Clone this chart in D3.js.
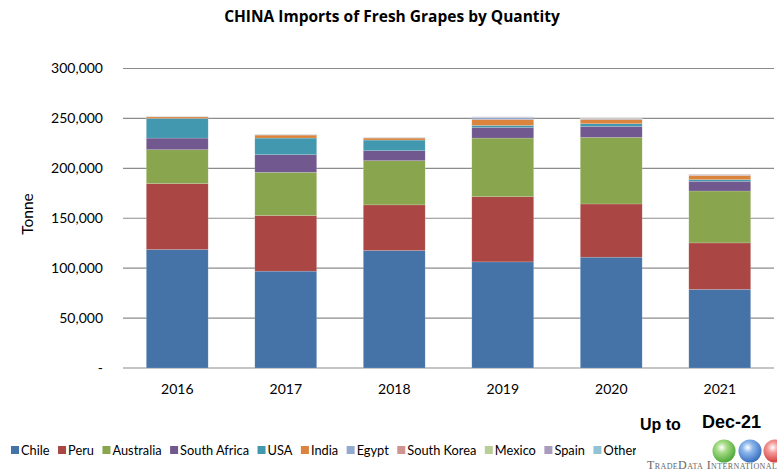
<!DOCTYPE html>
<html>
<head>
<meta charset="utf-8">
<script src="https://cdn.jsdelivr.net/npm/d3@7"></script>
<style>
  body { margin: 0; background: #fff; }
  svg { display: block; font-family: Lato, "Open Sans", sans-serif; }
</style>
</head>
<body>
<div id="chart"></div>
<script>
const years = ["2016", "2017", "2018", "2019", "2020", "2021"]
const countries = ["Chile", "Peru", "Australia", "South Africa", "USA", "India", "Egypt", "South Korea", "Mexico", "Spain", "Others"]
const colors = ["#4572A7", "#AA4643", "#89A54E", "#71588F", "#4198AF", "#DB843D", "#93A9CF", "#D19392", "#B9CD96", "#A99BBD", "#92C3D5"]

// tonnes
const chile       = [118700, 97000, 117700, 106300, 111000, 78700]
const peru        = [66000, 55700, 45700, 65300, 53300, 46600]
const australia   = [34000, 43300, 44300, 58700, 66700, 52000]
const southAfrica = [11600, 17700, 10000, 10700, 11000, 9700]
const usa         = [19700, 16600, 10600, 2000, 2700, 1700]
const india       = [1500, 3000, 2000, 6000, 4300, 4000]
const egypt       = [0, 300, 300, 2100, 600, 300]
const southKorea  = [300, 300, 300, 200, 400, 900]
const mexico      = [100, 100, 100, 100, 100, 100]
const spain       = [100, 100, 100, 100, 100, 100]
const others      = [100, 100, 100, 100, 100, 100]

const yTicks = [0, 50000, 100000, 150000, 200000, 250000, 300000]

const width = 777, height = 473
const series = [chile, peru, australia, southAfrica, usa, india, egypt, southKorea, mexico, spain, others]

const table = years.map((yr, i) => {
    const row = {year: yr}
    countries.forEach((c, j) => row[c] = series[j][i])
    return row
})

const stacked = d3.stack().keys(countries)(table)

const svg = d3.select("#chart").append("svg")
    .attr("width", width)
    .attr("height", height)

const x = d3.scaleBand()
    .domain(years)
    .range([123, 774])
    .paddingInner(0.43)
    .paddingOuter(0.215)

const y = d3.scaleLinear()
    .domain([0, 300000])
    .range([368, 68.5])

svg.append("text")
    .attr("x", 392).attr("y", 22)
    .attr("text-anchor", "middle")
    .style("font-family", "'Open Sans', sans-serif")
    .style("font-weight", "bold")
    .style("font-size", "15.5px")
    .text("CHINA Imports of Fresh Grapes by Quantity")

// gridlines
svg.append("g")
    .selectAll("line")
    .data(yTicks)
    .join("line")
    .attr("x1", 123).attr("x2", 774)
    .attr("y1", d => y(d)).attr("y2", d => y(d))
    .attr("stroke", "#8c8c8c")
    .attr("stroke-width", 1.2)

svg.append("g")
    .attr("transform", "translate(103,0)")
    .call(d3.axisLeft(y).tickValues(yTicks).tickSize(0).tickPadding(0)
        .tickFormat(d => d === 0 ? "-" : d3.format(",")(d)))
    .call(g => g.select(".domain").remove())
    .call(g => g.selectAll("text")
        .style("font-family", "Lato, 'Open Sans', sans-serif")
        .style("font-size", "14px")
        .attr("fill", "#000"))

svg.append("text")
    .attr("transform", "rotate(-90)")
    .attr("x", -214).attr("y", 33)
    .attr("text-anchor", "middle")
    .style("font-size", "15.5px")
    .text("Tonne")

svg.append("g")
    .selectAll("g")
    .data(stacked)
    .join("g")
    .attr("fill", (d, i) => colors[i])
    .selectAll("rect")
    .data(d => d)
    .join("rect")
    .attr("x", d => x(d.data.year))
    .attr("width", x.bandwidth())
    .attr("y", d => y(d[1]))
    .attr("height", d => Math.max(0, y(d[0]) - y(d[1])))
    .attr("stroke", "#fff")
    .attr("stroke-opacity", 0.25)
    .attr("stroke-width", 0.6)

svg.append("g")
    .attr("transform", "translate(0,368)")
    .call(d3.axisBottom(x).tickSize(0).tickPadding(16))
    .call(g => g.select(".domain").remove())
    .call(g => g.selectAll("text")
        .style("font-family", "Lato, 'Open Sans', sans-serif")
        .style("font-size", "14px")
        .attr("fill", "#000"))

// legend, clipped like the original
svg.append("clipPath").attr("id", "legclip")
    .append("rect").attr("x", 0).attr("y", 435).attr("width", 636).attr("height", 30)

const legend = svg.append("g").attr("clip-path", "url(#legclip)")
let lx = 11
countries.forEach((c, i) => {
    legend.append("rect")
        .attr("x", lx).attr("y", 446)
        .attr("width", 8).attr("height", 8)
        .attr("fill", colors[i])
    const t = legend.append("text")
        .attr("x", lx + 10).attr("y", 455)
        .style("font-size", "12.8px")
        .text(c)
    lx += 10 + t.node().getComputedTextLength() + 8.5
})

svg.append("text")
    .attr("x", 640).attr("y", 430)
    .style("font-family", "'Liberation Sans', Arial, sans-serif")
    .style("font-weight", "bold")
    .style("font-size", "16px")
    .text("Up to")

svg.append("text")
    .attr("x", 702).attr("y", 428)
    .style("font-family", "'Liberation Sans', Arial, sans-serif")
    .style("font-weight", "bold")
    .style("font-size", "18px")
    .text("Dec-21")

// logo
const defs = svg.append("defs")
const globes = [["#a6dc86", "#4fa83a", 724], ["#8cb8ec", "#3a6fc0", 750], ["#f39a9a", "#d23c3c", 775]]
globes.forEach((gl, i) => {
    const grad = defs.append("radialGradient").attr("id", "glob" + i)
        .attr("cx", "40%").attr("cy", "35%").attr("r", "65%")
    grad.append("stop").attr("offset", "0%").attr("stop-color", "#fff")
    grad.append("stop").attr("offset", "35%").attr("stop-color", gl[0])
    grad.append("stop").attr("offset", "100%").attr("stop-color", gl[1])
    svg.append("circle")
        .attr("cx", gl[2]).attr("cy", 451).attr("r", 11.5)
        .attr("fill", `url(#glob${i})`)
})
svg.append("text")
    .attr("x", 647).attr("y", 469)
    .style("font-family", "'Liberation Serif', 'DejaVu Serif', serif")
    .style("font-variant", "small-caps")
    .style("font-size", "12px")
    .style("letter-spacing", "0.4px")
    .attr("fill", "#666")
    .text("TradeData International")
</script>
</body>
</html>
